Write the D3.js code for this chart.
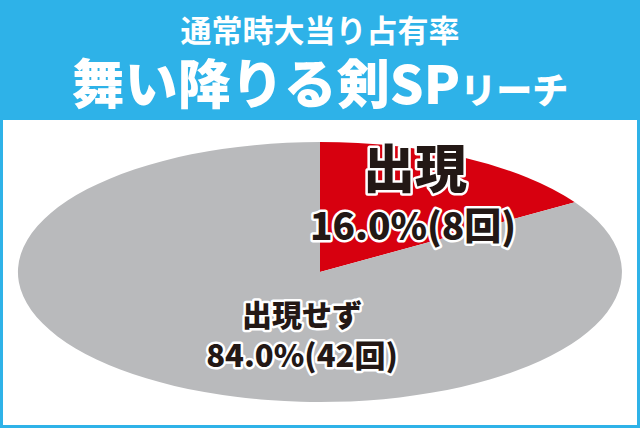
<html>
<head>
<meta charset="utf-8">
<script src="https://d3js.org/d3.v7.min.js"></script>
<style>
    body, html {
        margin: 0;
        padding: 0;
        background: #2eb2e8;
        font-family: "Noto Sans CJK JP", "Noto Sans", sans-serif;
    }
    .lbl {
        fill: #231815;
        stroke: #fff;
        stroke-width: 5px;
        stroke-linejoin: round;
        paint-order: stroke;
        font-weight: 900;
    }
</style>
</head>
<body>
<div id="chart"></div>
<script>

// data
var labels = ["出現", "出現せず"];
var counts = [8, 42];
var percents = [16.0, 84.0];
var colors = ["#d7000f", "#b9babc"];

var w = 640;
var h = 428;

var svg = d3.select("#chart")
    .append("svg")
    .attr("width", w)
    .attr("height", h);

// blue frame + header
svg.append("rect")
    .attr("width", w)
    .attr("height", h)
    .attr("fill", "#2eb2e8");

svg.append("rect")
    .attr("x", 3)
    .attr("y", 120)
    .attr("width", w - 6)
    .attr("height", h - 123)
    .attr("fill", "#fff");

svg.append("text")
    .attr("x", w / 2)
    .attr("y", 42)
    .attr("text-anchor", "middle")
    .attr("fill", "#fff")
    .attr("font-size", 31)
    .attr("font-weight", 700)
    .text("通常時大当り占有率");

var t2 = svg.append("text")
    .attr("x", w / 2)
    .attr("y", 104)
    .attr("text-anchor", "middle")
    .attr("fill", "#fff")
    .attr("font-weight", 900);
t2.append("tspan").attr("font-size", 53).text("舞い降りる剣SP");
t2.append("tspan").attr("font-size", 36).text("リーチ");

// pie, squashed into an ellipse
var cx = 320, cy = 272, rx = 302, ry = 130;

var pie = d3.pie().sort(null);
var arc = d3.arc().innerRadius(0).outerRadius(1);

var g = svg.append("g")
    .attr("transform", "translate(" + cx + "," + cy + ") scale(" + rx + "," + ry + ")");

g.selectAll("path")
    .data(pie(counts))
    .enter()
    .append("path")
    .attr("d", arc)
    .attr("fill", function (d, i) { return colors[i]; });

// labels
svg.append("text")
    .attr("class", "lbl")
    .attr("x", 415)
    .attr("y", 188)
    .attr("text-anchor", "middle")
    .attr("font-size", 52)
    .text(labels[0]);

svg.append("text")
    .attr("class", "lbl")
    .attr("x", 413)
    .attr("y", 240)
    .attr("text-anchor", "middle")
    .attr("font-size", 37)
    .text(percents[0].toFixed(1) + "%(" + counts[0] + "回)");

svg.append("text")
    .attr("class", "lbl")
    .attr("x", 302)
    .attr("y", 326)
    .attr("text-anchor", "middle")
    .attr("font-size", 30)
    .text(labels[1]);

svg.append("text")
    .attr("class", "lbl")
    .attr("x", 302)
    .attr("y", 367)
    .attr("text-anchor", "middle")
    .attr("font-size", 31)
    .text(percents[1].toFixed(1) + "%(" + counts[1] + "回)");

</script>
</body>
</html>
